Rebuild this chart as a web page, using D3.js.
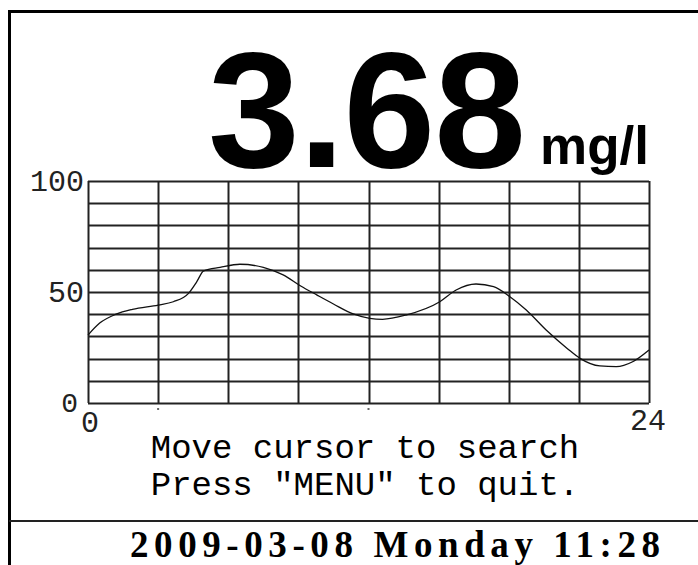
<!DOCTYPE html>
<html>
<head>
<meta charset="utf-8">
<script src="https://cdn.jsdelivr.net/npm/d3@7"></script>
<style>
  body { margin: 0; background: #fff; }
  svg { display: block; }
</style>
</head>
<body>
<div class="svg-container"></div>
<script>
// readings of the trend curve (hour, value)
const hours = [0, 0.5, 1.2, 1.9, 3.0, 3.65, 4.3, 4.65, 4.95, 5.65, 6.5, 7.5, 8.35, 9.1, 9.8, 10.5, 11.35, 12.05, 12.6, 13.6, 15.05, 15.75, 16.6, 17.35, 18.05, 18.75, 19.6, 20.5, 21.05, 21.9, 22.6, 23.3, 24];
const values = [30.6, 36, 40, 42.2, 44.1, 45.6, 49.4, 54.6, 59.5, 61.1, 62.5, 61.1, 57.7, 52.7, 48.6, 44.6, 40.1, 38.1, 37.7, 39.6, 45.6, 50.9, 53.6, 52.4, 47.9, 41.9, 32.9, 24.6, 20.1, 16.7, 16.4, 18.6, 23.9];

const yTicks = [0, 50, 100];
const xTicks = [0, 24];
const reading = '3.68';
const unit = 'mg/l';
const messages = ['Move cursor to search', 'Press \u2033MENU\u2033 to quit.'];
const statusLine = '2009-03-08 Monday 11:28';

const W = 698, H = 565;
const margin = {top: 181, right: 49, bottom: 162, left: 88};
const width = W - margin.left - margin.right;
const height = H - margin.top - margin.bottom;

const svg = d3.select('.svg-container')
  .append('svg')
  .attr('width', W)
  .attr('height', H);

// screen frame
svg.append('path')
  .attr('d', `M9.5,${H} V11.5 H${W}`)
  .attr('fill', 'none')
  .attr('stroke', '#000')
  .attr('stroke-width', 3);
svg.append('line')
  .attr('x1', 9).attr('x2', W)
  .attr('y1', 521).attr('y2', 521)
  .attr('stroke', '#222')
  .attr('stroke-width', 2);

// big reading
svg.append('text')
  .attr('x', 208).attr('y', 167)
  .attr('font-family', '"Liberation Sans", Arial, sans-serif')
  .attr('font-weight', 'bold')
  .attr('font-size', 165)
  .attr('letter-spacing', -1)
  .attr('fill', '#000')
  .text(reading);
svg.append('text')
  .attr('x', 540).attr('y', 164)
  .attr('font-family', '"Liberation Sans", Arial, sans-serif')
  .attr('font-weight', 'bold')
  .attr('font-size', 53)
  .attr('fill', '#000')
  .text(unit);

const xScale = d3.scaleLinear().domain([0, 24]).range([0, width]);
const yScale = d3.scaleLinear().domain([0, 100]).range([height, 0]);

const g = svg.append('g')
  .attr('transform', `translate(${margin.left}, ${margin.top})`);

// grid
g.append('g')
  .attr('class', 'grid')
  .selectAll('line.h')
  .data(d3.range(0, 101, 10))
  .join('line')
  .attr('x1', 0).attr('x2', width)
  .attr('y1', d => Math.round(yScale(d)) + 0.5)
  .attr('y2', d => Math.round(yScale(d)) + 0.5)
  .attr('stroke', '#222').attr('stroke-width', 2);
g.append('g')
  .attr('class', 'grid')
  .selectAll('line.v')
  .data(d3.range(0, 25, 3))
  .join('line')
  .attr('y1', 0).attr('y2', height)
  .attr('x1', d => Math.round(xScale(d)) + 0.5)
  .attr('x2', d => Math.round(xScale(d)) + 0.5)
  .attr('stroke', '#222').attr('stroke-width', 2);

// small marks under the grid
g.selectAll('rect.mark')
  .data([3, 12])
  .join('rect')
  .attr('x', d => xScale(d) - 1)
  .attr('y', height + 5)
  .attr('width', 2).attr('height', 2)
  .attr('fill', '#666');

// trend line
const line = d3.line()
  .x((d, i) => xScale(d))
  .y((d, i) => yScale(values[i]))
  .curve(d3.curveMonotoneX);
g.append('path')
  .datum(hours)
  .attr('d', line)
  .attr('fill', 'none')
  .attr('stroke', '#111')
  .attr('stroke-width', 1.3);

// axis labels
const labelFont = '"Liberation Mono", "DejaVu Sans Mono", monospace';
g.selectAll('text.ylab')
  .data(yTicks)
  .join('text')
  .attr('x', d => d === 0 ? -10 : -4)
  .attr('y', d => yScale(d) + (d === 0 ? 9 : 10))
  .attr('text-anchor', 'end')
  .attr('font-family', labelFont)
  .attr('font-size', d => d === 0 ? 28 : 30)
  .attr('fill', '#222')
  .text(d => d);
g.selectAll('text.xlab')
  .data(xTicks)
  .join('text')
  .attr('x', d => d === 0 ? xScale(d) + 2 : xScale(d) - 1)
  .attr('y', d => d === 0 ? height + 29 : height + 27)
  .attr('text-anchor', 'middle')
  .attr('font-family', labelFont)
  .attr('font-size', 30)
  .attr('fill', '#222')
  .text(d => d);

// messages
svg.selectAll('text.msg')
  .data(messages)
  .join('text')
  .attr('x', 365)
  .attr('y', (d, i) => 458 + i * 37)
  .attr('text-anchor', 'middle')
  .attr('font-family', labelFont)
  .attr('font-size', 34)
  .attr('fill', '#000')
  .text(d => d);

// date line
svg.append('text')
  .attr('x', 130).attr('y', 557)
  .attr('font-family', '"Liberation Serif", serif')
  .attr('font-weight', 'bold')
  .attr('font-size', 37)
  .attr('textLength', 530)
  .attr('lengthAdjust', 'spacing')
  .attr('fill', '#000')
  .text(statusLine);
</script>
</body>
</html>
